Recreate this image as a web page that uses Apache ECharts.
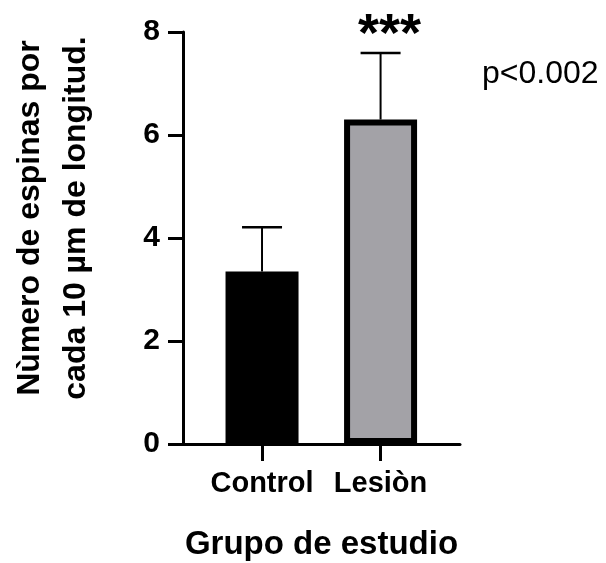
<!DOCTYPE html>
<html>
<head>
<meta charset="utf-8">
<script src="https://cdn.jsdelivr.net/npm/echarts@6/dist/echarts.min.js"></script>
<style>html,body{margin:0;padding:0;background:#fff;}#c{width:606px;height:563px;}</style>
</head>
<body>
<div id="c"></div>
<script>
const categories = ['Control', 'Lesiòn'];
const categoryPos = [1, 2];
const means = [3.35, 6.30];
const upperErr = [4.21, 7.59];
const sigLabels = ['', '***'];
const barColors = ['#000000', '#a3a2a7'];
const yTicks = [0, 2, 4, 6, 8];

const FONT = '"Liberation Sans", Arial, sans-serif';
const chart = echarts.init(document.getElementById('c'), null, {renderer: 'canvas'});

const barData = categoryPos.map((x, i) => ({
  value: [x, means[i]],
  itemStyle: {color: barColors[i], borderColor: '#000', borderWidth: 6}
}));
const errData = categoryPos.map((x, i) => [x, means[i], upperErr[i], i]);

chart.setOption({
  animation: false,
  backgroundColor: '#fff',
  grid: {left: 183, right: 146, top: 32, bottom: 119, containLabel: false, outerBoundsMode: 'none'},
  xAxis: {
    type: 'value', min: 1/3, max: 2.67,
    axisLine: {show: true, lineStyle: {color: '#000', width: 3}},
    axisTick: {show: true, customValues: categoryPos, length: 17, lineStyle: {color: '#000', width: 3}},
    axisLabel: {show: true, customValues: categoryPos, margin: 25,
      formatter: v => categories[categoryPos.indexOf(Math.round(v))] || '',
      color: '#000', fontFamily: FONT, fontWeight: 'bold', fontSize: 29},
    splitLine: {show: false},
    name: 'Grupo de estudio', nameLocation: 'middle', nameGap: 84,
    nameTextStyle: {color: '#000', fontFamily: FONT, fontWeight: 'bold', fontSize: 33}
  },
  yAxis: {
    type: 'value', min: 0, max: 8, interval: 2,
    axisLine: {show: true, lineStyle: {color: '#000', width: 3}},
    axisTick: {show: true, length: 15, lineStyle: {color: '#000', width: 3}},
    axisLabel: {margin: 23, color: '#000', fontFamily: FONT, fontWeight: 'bold', fontSize: 30,
      customValues: yTicks},
    splitLine: {show: false},
    name: 'Nùmero de espinas por\ncada 10 µm de longitud.',
    nameLocation: 'middle', nameGap: 84, nameRotate: 90,
    nameTextStyle: {color: '#000', fontFamily: FONT, fontWeight: 'bold', fontSize: 32, lineHeight: 46,
      padding: [0, 0, 0, 40]}
  },
  series: [
    {type: 'bar', data: barData, barWidth: 73, z: 2},
    {
      type: 'custom', z: 3, data: errData,
      renderItem: function (params, api) {
        const x = api.value(0), m = api.value(1), e = api.value(2), idx = api.value(3);
        const p0 = api.coord([x, m]);
        const p1 = api.coord([x, e]);
        const children = [
          {type: 'line', shape: {x1: p0[0], y1: p0[1], x2: p1[0], y2: p1[1]}, style: {stroke: '#000', lineWidth: 2}},
          {type: 'line', shape: {x1: p1[0] - 20, y1: p1[1], x2: p1[0] + 20, y2: p1[1]}, style: {stroke: '#000', lineWidth: 2.5}}
        ];
        const lab = sigLabels[idx];
        if (lab) {
          children.push({type: 'text', style: {x: p1[0] + 9, y: p1[1] - 17, text: lab, fill: '#000',
            font: 'bold 54px ' + FONT, align: 'center', verticalAlign: 'middle'}});
        }
        return {type: 'group', children: children};
      }
    }
  ],
  graphic: [
    {type: 'text', left: 482, top: 58, style: {text: 'p<0.002', fill: '#000', font: '32px ' + FONT}}
  ]
});
</script>
</body>
</html>
